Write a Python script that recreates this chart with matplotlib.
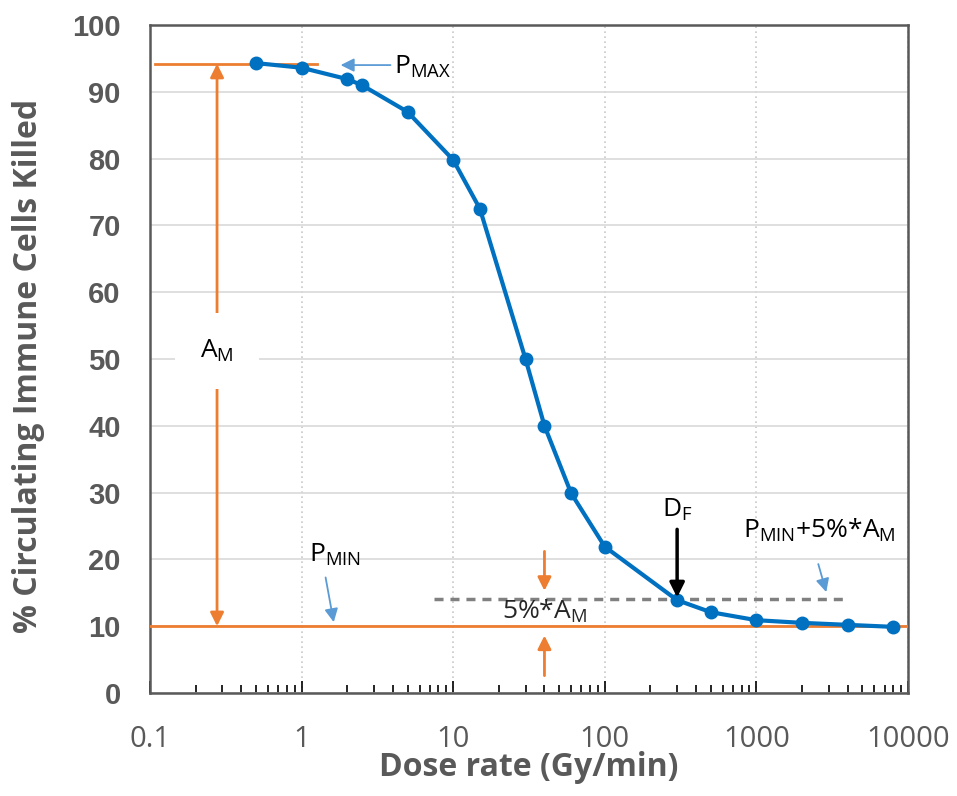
import matplotlib
matplotlib.use("Agg")
import matplotlib.pyplot as plt
import numpy as np

# Data
dose_rate = [0.5, 1, 2, 2.5, 5, 10, 15, 30, 40, 60, 100, 300, 500, 1000, 2000, 4000, 8000]
killed = [94.3, 93.6, 91.9, 91.0, 87.0, 79.8, 72.5, 50.0, 40.0, 29.9, 21.9, 13.9, 12.1, 10.9, 10.5, 10.2, 9.9]
p_max = 94.2
p_min = 10.0
threshold = 14.0
d_f = 300
x_ticks = [0.1, 1, 10, 100, 1000, 10000]
x_tick_labels = ["0.1", "1", "10", "100", "1000", "10000"]
y_ticks = list(range(0, 101, 10))

BLUE = "#0070C0"
ORANGE = "#ED7D31"
LBLUE = "#5B9BD5"
GREY = "#595959"
FS = 19

fig = plt.figure(figsize=(9.57, 7.96), dpi=100)
ax = fig.add_axes([0.1567, 0.1294, 0.9488 - 0.1567, 0.9686 - 0.1294])
ax.set_xscale("log")
ax.set_xlim(0.1, 10000)
ax.set_ylim(0, 100)

# grid
ax.set_yticks(y_ticks)
ax.set_xticks(x_ticks)
ax.set_xticklabels(x_tick_labels)
ax.grid(axis="y", color="#d9d9d9", lw=1.2, ls="-")
ax.grid(axis="x", which="major", color="#c8c8c8", lw=1.2, ls=(0, (1, 2)))
ax.set_axisbelow(True)

for s in ax.spines.values():
    s.set_color(GREY)
    s.set_linewidth(1.8)

ax.tick_params(axis="y", length=0, pad=21, labelsize=21, labelcolor=GREY)
for lab in ax.get_yticklabels():
    lab.set_fontweight("bold")
    lab.set_family("Liberation Sans")
ax.tick_params(axis="x", which="major", direction="in", length=9, width=1.2, color="black",
               pad=23, labelsize=21, labelcolor=GREY)
ax.tick_params(axis="x", which="minor", direction="in", length=6, width=1.2, color="black")
for lab in ax.get_xticklabels():
    lab.set_family("Open Sans")
ax.xaxis.set_minor_formatter(matplotlib.ticker.NullFormatter())

ax.set_xlabel("Dose rate (Gy/min)", fontsize=23, fontweight="bold", color=GREY,
              family="Open Sans", labelpad=-2)
ax.set_ylabel("% Circulating Immune Cells Killed", fontsize=23, fontweight="bold",
              color=GREY, family="Open Sans")
ax.yaxis.set_label_coords(-0.138, 0.49)

# reference lines
ax.plot([0.108, 1.27], [p_max, p_max], color=ORANGE, lw=2, zorder=3)
ax.plot([0.1, 10000], [p_min, p_min], color=ORANGE, lw=2, zorder=3)
ax.plot([7.5, 3860], [threshold, threshold], color="#808080", lw=2.5,
        dashes=(2.6, 2.0), zorder=3)

# data
ax.plot(dose_rate, killed, color=BLUE, lw=3, marker="o", markersize=9, zorder=5)

# A_M double arrow
xa = 0.277
ax.annotate("", xy=(xa, p_max), xytext=(xa, 50), zorder=4,
            arrowprops=dict(arrowstyle="-|>", color=ORANGE, lw=2, mutation_scale=20,
                            shrinkA=0, shrinkB=0))
ax.annotate("", xy=(xa, p_min), xytext=(xa, 50), zorder=4,
            arrowprops=dict(arrowstyle="-|>", color=ORANGE, lw=2, mutation_scale=20,
                            shrinkA=0, shrinkB=0))
ax.text(xa, 51.2, r"A$_{\mathregular{M}}$", ha="center", va="center", fontsize=FS,
        family="Open Sans", zorder=6,
        bbox=dict(facecolor="white", edgecolor="none", pad=18))

# P_MAX
ax.annotate("", xy=(1.81, 94.0), xytext=(3.86, 94.0),
            arrowprops=dict(arrowstyle="-|>", color=LBLUE, lw=1.3, mutation_scale=20,
                            shrinkA=0, shrinkB=0))
ax.text(4.1, 93.8, r"P$_{\mathregular{MAX}}$", ha="left", va="center", fontsize=FS,
        family="Open Sans")

# P_MIN
ax.text(1.65, 20.7, r"P$_{\mathregular{MIN}}$", ha="center", va="center", fontsize=FS,
        family="Open Sans")
ax.annotate("", xy=(1.63, 10.6), xytext=(1.44, 17.3),
            arrowprops=dict(arrowstyle="-|>", color=LBLUE, lw=1.3, mutation_scale=20,
                            shrinkA=0, shrinkB=0))

# P_MIN + 5% * A_M
ax.text(2600, 24.3, r"P$_{\mathregular{MIN}}$+5%*A$_{\mathregular{M}}$", ha="center",
        va="center", fontsize=FS, family="Open Sans")
ax.annotate("", xy=(2890, 15.1), xytext=(2560, 19.3),
            arrowprops=dict(arrowstyle="-|>", color=LBLUE, lw=1.3, mutation_scale=20,
                            shrinkA=0, shrinkB=0))

# D_F
ax.text(d_f, 27.5, r"D$_{\mathregular{F}}$", ha="center", va="center", fontsize=FS,
        family="Open Sans")
ax.annotate("", xy=(d_f, 14.3), xytext=(d_f, 24.5), zorder=6,
            arrowprops=dict(arrowstyle="-|>", color="black", lw=2.5, mutation_scale=22,
                            shrinkA=0, shrinkB=0))

# 5% * A_M
ax.text(40, 12.2, r"5%*A$_{\mathregular{M}}$", ha="center", va="center", fontsize=FS,
        family="Open Sans", color="#262626")
ax.annotate("", xy=(40, 15.3), xytext=(40, 21.2),
            arrowprops=dict(arrowstyle="-|>", color=ORANGE, lw=2, mutation_scale=20,
                            shrinkA=0, shrinkB=0))
ax.annotate("", xy=(40, 8.6), xytext=(40, 2.6),
            arrowprops=dict(arrowstyle="-|>", color=ORANGE, lw=2, mutation_scale=20,
                            shrinkA=0, shrinkB=0))

fig.savefig("out.png", dpi=100)
